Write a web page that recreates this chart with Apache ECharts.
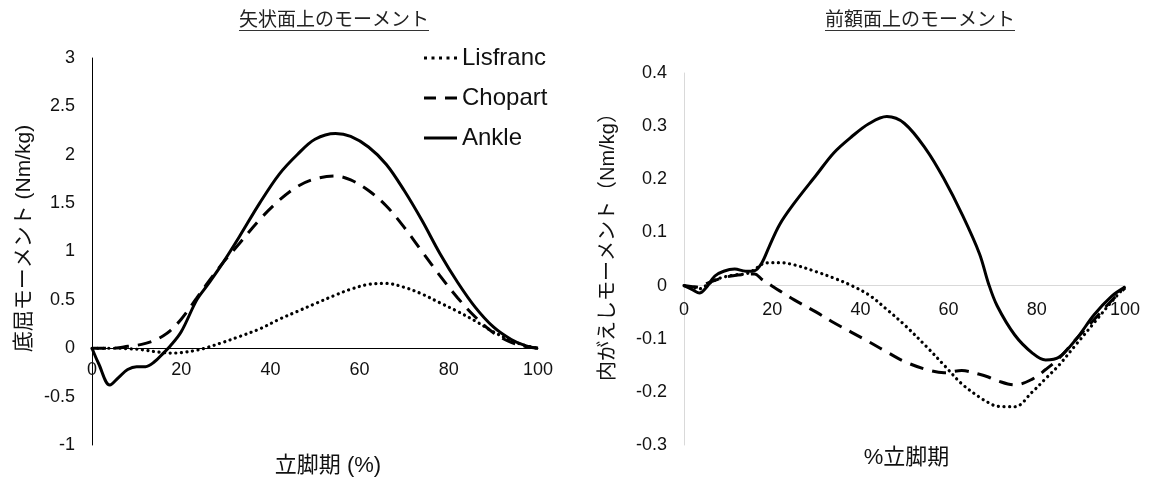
<!DOCTYPE html>
<html>
<head>
<meta charset="utf-8">
<script src="https://cdn.jsdelivr.net/npm/echarts@6/dist/echarts.min.js"></script>
<style>
html,body{margin:0;padding:0;background:#fff;}
#c{width:1151px;height:481px;}
</style>
</head>
<body>
<div id="c"></div>
<script>
// ---- Data ----
const seriesNames = ['Lisfranc', 'Chopart', 'Ankle'];

// Sagittal plane (left chart)
const sagX        = [0, 1.5, 4, 6, 8, 10, 12, 14, 16, 17.5, 20, 23.5, 26, 29.3, 33, 37.6, 42, 46, 50, 54.6, 58, 62, 66, 70, 74, 78, 82, 86, 90, 94, 97, 100];
const sagAnkle    = [0, -0.16, -0.38, -0.3, -0.22, -0.19, -0.19, -0.14, -0.05, 0.02, 0.17, 0.5, 0.66, 0.88, 1.15, 1.5, 1.8, 2.0, 2.16, 2.22, 2.19, 2.08, 1.9, 1.63, 1.32, 0.98, 0.68, 0.42, 0.22, 0.09, 0.03, 0];
const sagChopart  = [0, 0, 0, 0.005, 0.02, 0.03, 0.05, 0.08, 0.13, 0.18, 0.3, 0.52, 0.68, 0.88, 1.08, 1.33, 1.53, 1.67, 1.75, 1.78, 1.74, 1.63, 1.47, 1.25, 1.0, 0.75, 0.52, 0.32, 0.16, 0.06, 0.02, 0];
const sagLisfranc = [0, 0, 0, 0, -0.005, -0.01, -0.02, -0.035, -0.045, -0.05, -0.045, -0.02, 0.01, 0.06, 0.12, 0.2, 0.3, 0.38, 0.46, 0.55, 0.61, 0.66, 0.67, 0.63, 0.56, 0.47, 0.38, 0.28, 0.17, 0.08, 0.03, 0];

// Frontal plane (right chart)
const froX        = [0, 2, 3.5, 5, 7, 9, 11.5, 14, 16, 17.6, 19.3, 21.7, 25, 30, 34, 38, 42, 46, 50, 55, 59, 63, 67, 69, 71, 75, 79, 82, 85, 89, 93, 97, 100];
const froAnkle    = [0, -0.008, -0.014, -0.004, 0.018, 0.027, 0.031, 0.027, 0.028, 0.042, 0.073, 0.115, 0.155, 0.208, 0.25, 0.28, 0.305, 0.318, 0.305, 0.255, 0.2, 0.135, 0.06, 0.005, -0.038, -0.093, -0.127, -0.14, -0.135, -0.1, -0.055, -0.02, -0.003];
const froChopart  = [0, -0.002, -0.003, 0.003, 0.01, 0.015, 0.019, 0.021, 0.022, 0.012, 0.003, -0.01, -0.027, -0.05, -0.07, -0.088, -0.106, -0.125, -0.143, -0.158, -0.164, -0.16, -0.167, -0.172, -0.179, -0.187, -0.176, -0.158, -0.137, -0.1, -0.064, -0.028, -0.005];
const froLisfranc = [0, -0.003, -0.006, 0, 0.01, 0.016, 0.02, 0.022, 0.03, 0.04, 0.043, 0.043, 0.039, 0.026, 0.014, 0, -0.018, -0.045, -0.074, -0.115, -0.15, -0.185, -0.21, -0.22, -0.227, -0.228, -0.2, -0.175, -0.15, -0.11, -0.07, -0.03, -0.002];

const titles = ['矢状面上のモーメント', '前額面上のモーメント'];
const sagYName = '底屈モーメント (Nm/kg)';
const sagXName = '立脚期 (%)';
const froYName = '内がえしモーメント（Nm/kg）';
const froXName = '%立脚期';

// ---- Chart ----
const FONT = "'Liberation Sans', Arial, 'Noto Sans CJK JP', sans-serif";
const TXT = '#111';
const chart = echarts.init(document.getElementById('c'), null, {renderer: 'canvas'});

function pair(xs, ys) { return xs.map((x, i) => [x, ys[i]]); }
function fmt(v) { return String(Math.round(v * 10) / 10); }

const styles = {
  Lisfranc: {type: [0.1, 5.5], width: 3.2, cap: 'round', color: '#000'},
  Chopart:  {type: [14, 9], width: 3, color: '#000'},
  Ankle:    {type: 'solid', width: 3, color: '#000'}
};
// legend glyphs (line samples) drawn as small paths
const legendIcons = {
  Lisfranc: 'path://M0,0h3v3h-3zM7.5,0h3v3h-3zM15,0h3v3h-3zM22.5,0h3v3h-3zM30,0h3v3h-3z',
  Chopart:  'path://M0,0h12v3h-12zM21,0h12v3h-12z',
  Ankle:    'path://M0,0h33v3h-33z'
};

function mkSeries(name, xs, ys, idx) {
  return {
    name: name, type: 'line', xAxisIndex: idx, yAxisIndex: idx,
    data: pair(xs, ys), smooth: 0.35, showSymbol: false, symbol: 'none',
    lineStyle: styles[name], itemStyle: {color: '#000'}, z: 3, silent: true
  };
}

const grids = [
  {left: 92, right: 613, top: 58, bottom: 36, outerBoundsMode: 'none', containLabel: false},
  {left: 684, right: 26, top: 73, bottom: 36, outerBoundsMode: 'none', containLabel: false}
];

// title underline positions
const ctx = document.createElement('canvas').getContext('2d');
const TFS = 19;
ctx.font = TFS + "px 'Noto Sans CJK JP'";
const titleCx = [334, 920];
const titleTop = 11;
const graphics = [];
titles.forEach((t, i) => {
  const w = ctx.measureText(t).width;
  graphics.push({type: 'line', shape: {x1: titleCx[i] - w / 2, y1: titleTop + TFS + 0.5, x2: titleCx[i] + w / 2, y2: titleTop + TFS + 0.5},
    style: {stroke: '#333', lineWidth: 1}});
});

function xAxisCfg(idx, name, gap, margin, lineColor, nameSize, pad) {
  return {
    type: 'value', gridIndex: idx, min: 0, max: 100, interval: 20,
    axisLine: {show: true, onZero: false, lineStyle: {color: lineColor, width: 1}},
    axisTick: {show: false}, splitLine: {show: false},
    axisLabel: {fontSize: 18, color: TXT, fontFamily: FONT, margin: margin},
    name: name, nameLocation: 'middle', nameGap: gap,
    nameTextStyle: {fontSize: nameSize, color: TXT, fontFamily: FONT, padding: pad}
  };
}
function yAxisCfg(idx, min, max, interval, name, gap, lineColor, nameSize, pad) {
  return {
    type: 'value', gridIndex: idx, min: min, max: max, interval: interval,
    axisLine: {show: true, onZero: false, lineStyle: {color: lineColor, width: 1}},
    axisTick: {show: false}, splitLine: {show: false},
    axisLabel: {fontSize: 18, color: TXT, fontFamily: FONT, margin: 17, formatter: fmt},
    name: name, nameLocation: 'middle', nameGap: gap,
    nameTextStyle: {fontSize: nameSize, color: TXT, fontFamily: FONT, padding: pad}
  };
}

const yMins = [-1, -0.3];
const option = {
  backgroundColor: '#fff',
  animation: false,
  title: titles.map((t, i) => ({
    text: t, left: titleCx[i], top: titleTop, textAlign: 'center', padding: 0,
    textStyle: {fontSize: TFS, fontWeight: 'normal', color: '#222', fontFamily: FONT}
  })),
  legend: {
    orient: 'vertical', left: 424, top: 46, padding: 0,
    data: seriesNames.map(n => ({name: n, icon: legendIcons[n], itemStyle: {color: '#000', opacity: 1}})),
    itemWidth: 33, itemHeight: 3, itemGap: 16,
    textStyle: {fontSize: 24, color: TXT, fontFamily: FONT, lineHeight: 24},
    selectedMode: false
  },
  grid: grids,
  xAxis: [
    xAxisCfg(0, sagXName, 107, 13, '#000', 22, [0, 0, 0, 26]),
    xAxisCfg(1, froXName, 161, 15, '#d9d9d9', 22, [0, 0, 0, 4])
  ],
  yAxis: [
    yAxisCfg(0, yMins[0], 3, 0.5, sagYName, 57, '#000', 21, [0, 0, 0, 26]),
    yAxisCfg(1, yMins[1], 0.4, 0.1, froYName, 66, '#d9d9d9', 20, [0, 0, 0, 34])
  ],
  graphic: graphics,
  series: [
    mkSeries('Lisfranc', sagX, sagLisfranc, 0),
    mkSeries('Chopart', sagX, sagChopart, 0),
    mkSeries('Ankle', sagX, sagAnkle, 0),
    mkSeries('Lisfranc', froX, froLisfranc, 1),
    mkSeries('Chopart', froX, froChopart, 1),
    mkSeries('Ankle', froX, froAnkle, 1)
  ]
};
chart.setOption(option);

// place each x axis (line + labels) on the y = 0 line of its own scale
const offs = [0, 1].map(i => {
  const pz = chart.convertToPixel({yAxisIndex: i}, 0);
  const pb = chart.convertToPixel({yAxisIndex: i}, yMins[i]);
  return pz - pb;
});
chart.setOption({xAxis: [{offset: offs[0]}, {offset: offs[1]}]});
</script>
</body>
</html>
